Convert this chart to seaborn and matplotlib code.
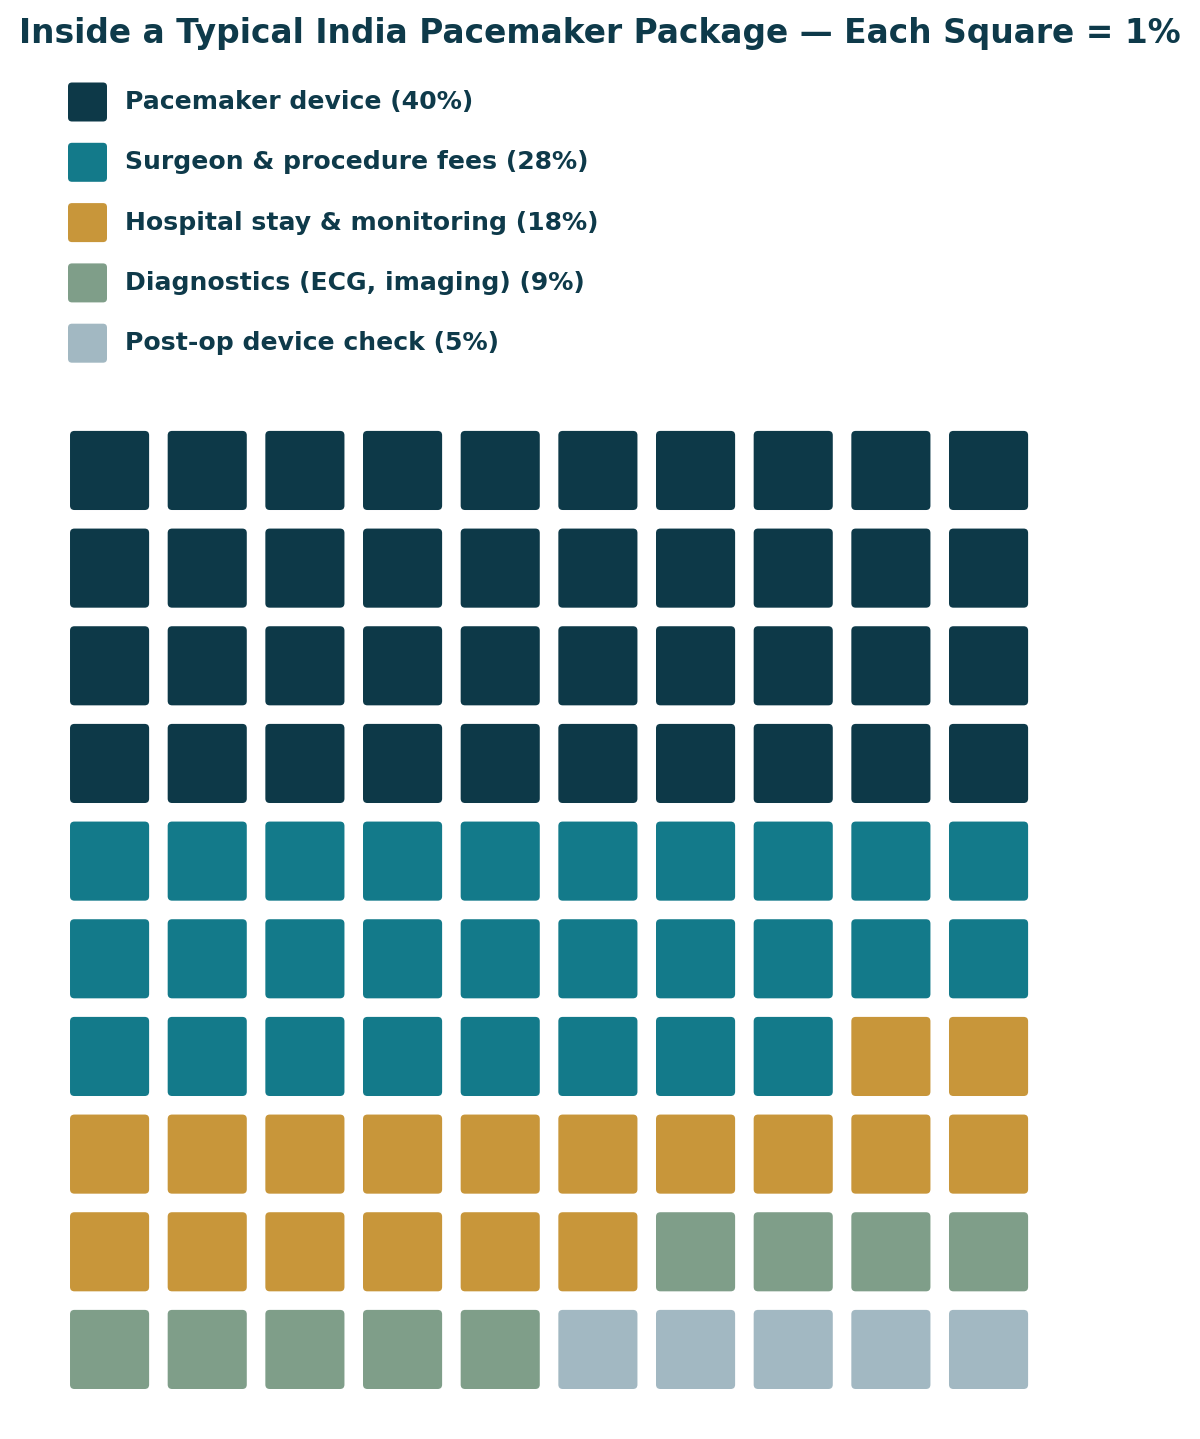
import numpy as np
import pandas as pd
import matplotlib
matplotlib.use('Agg')
import matplotlib.pyplot as plt
from matplotlib.patches import FancyBboxPatch
import seaborn as sns

# data
categories = ['Pacemaker device', 'Surgeon & procedure fees', 'Hospital stay & monitoring',
              'Diagnostics (ECG, imaging)', 'Post-op device check']
shares = [40, 28, 18, 9, 5]
colors = ['#0D3948', '#137A8A', '#C8963A', '#7F9E89', '#A2B8C2']
n_cols = 10
n_rows = 10

sns.set_theme(style='white')
plt.rcParams['font.family'] = ['DejaVu Sans']
text_color = '#0E3A4A'

# one row per square, filled left to right, top to bottom
cells = []
for cat, n in zip(categories, shares):
    cells += [cat] * n
df = pd.DataFrame({'category': cells})
df['idx'] = np.arange(len(df))
df['col'] = df['idx'] % n_cols
df['row'] = df['idx'] // n_cols
palette = dict(zip(categories, colors))

fig = plt.figure(figsize=(12, 14.39), dpi=100)
ax = fig.add_axes([0.0506, 0.0283, 0.8139, 0.6787])

size = 0.81
off = (1 - size) / 2
for _, r in df.iterrows():
    y = n_rows - 1 - r['row']
    ax.add_patch(FancyBboxPatch((r['col'] + off, y + off), size, size,
                                boxstyle='round,pad=0,rounding_size=0.045',
                                facecolor=palette[r['category']], edgecolor='none'))
ax.set_xlim(0, n_cols)
ax.set_ylim(0, n_rows)
ax.set_aspect('equal')
ax.axis('off')

# legend drawn in figure pixel space
lax = fig.add_axes([0, 0, 1, 1])
lax.set_xlim(0, 1200)
lax.set_ylim(1439, 0)
lax.axis('off')
for i, (cat, n) in enumerate(zip(categories, shares)):
    yc = 102 + i * 60.3
    lax.add_patch(FancyBboxPatch((68, yc - 19.5), 39, 39,
                                 boxstyle='round,pad=0,rounding_size=4',
                                 facecolor=palette[cat], edgecolor='none'))
    lax.text(125, yc, f'{cat} ({n}%)', fontsize=18.1, fontweight='bold',
             color=text_color, va='center', ha='left')

fig.text(0.5, 1 - 33 / 1439, 'Inside a Typical India Pacemaker Package \u2014 Each Square = 1%',
         fontsize=23.7, fontweight='bold', color=text_color, ha='center', va='center')

fig.savefig('out.png', dpi=100)
